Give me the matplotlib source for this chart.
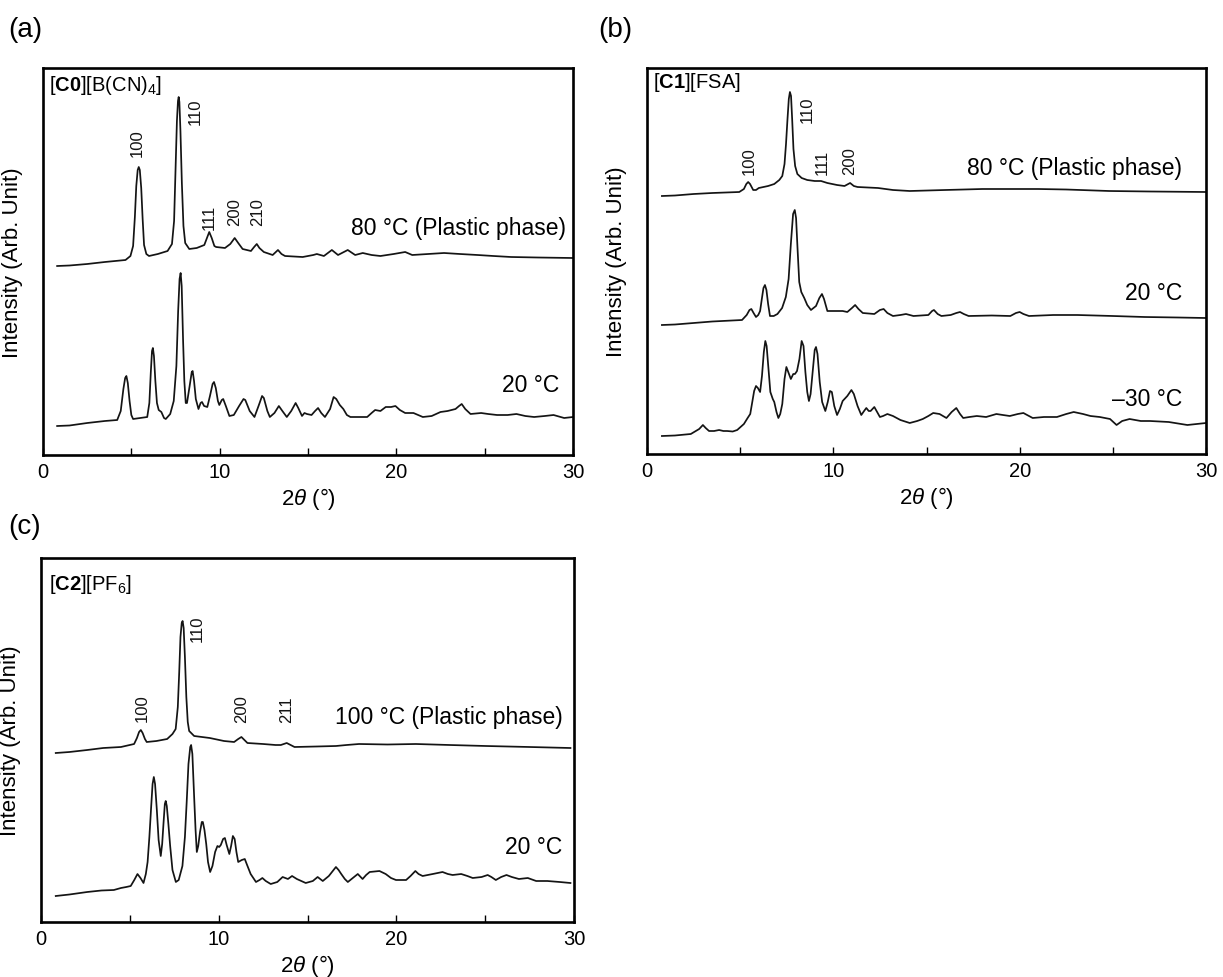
import numpy as np
import matplotlib
matplotlib.use("Agg")
import matplotlib.pyplot as plt
from matplotlib.ticker import FixedLocator

plt.rcParams['font.family'] = ['Liberation Sans', 'DejaVu Sans']
plt.rcParams['mathtext.fontset'] = 'custom'
plt.rcParams['mathtext.rm'] = 'Liberation Sans'
plt.rcParams['mathtext.it'] = 'Liberation Sans:italic'
plt.rcParams['mathtext.bf'] = 'Liberation Sans:bold'

# ---------------- data: (2theta in degrees, intensity in arbitrary units) ----------------
# Panel (a) [C0][B(CN)4]
a80 = [(0.8, 185), (1.5, 185.5), (2.5, 187), (3.5, 189), (4.67, 191), (4.95, 195), (5.1, 205), (5.2, 234),
       (5.28, 265), (5.36, 281), (5.42, 284), (5.48, 281), (5.56, 263), (5.64, 232), (5.72, 206), (5.85, 197),
       (6.0, 195), (6.5, 197), (7.05, 200), (7.3, 207), (7.42, 230), (7.5, 280), (7.58, 330), (7.64, 350),
       (7.68, 354), (7.72, 349), (7.78, 320), (7.86, 268), (7.95, 225), (8.05, 208), (8.28, 202), (8.7, 203),
       (9.13, 206), (9.28, 213), (9.41, 219), (9.55, 213), (9.7, 205), (9.8, 204), (10.3, 203), (10.6, 207),
       (10.85, 213), (11.05, 208), (11.3, 202), (11.77, 200), (11.95, 204), (12.1, 207), (12.25, 203),
       (12.5, 199), (13.0, 196), (13.3, 201), (13.5, 197), (13.7, 195), (14.7, 194), (15.3, 196), (15.5, 197),
       (15.9, 195), (16.35, 201), (16.7, 196), (17.25, 201), (17.67, 196), (18.1, 198), (18.6, 196),
       (19.1, 195), (19.85, 197), (20.5, 199), (20.9, 196), (21.8, 197), (22.7, 198), (23.6, 197), (24.6, 196),
       (25.5, 195), (26.5, 194), (28.0, 193.5), (30.0, 193)]
a20 = [(0.8, 25), (1.5, 25.5), (2.5, 28), (3.5, 30), (4.2, 31), (4.4, 40), (4.55, 62), (4.65, 73), (4.72, 75),
       (4.8, 68), (4.9, 50), (5.0, 36), (5.1, 32), (5.9, 34), (6.02, 48), (6.1, 78), (6.17, 100), (6.22, 103),
       (6.28, 95), (6.36, 70), (6.45, 48), (6.55, 41), (6.7, 39), (6.85, 33), (6.95, 32), (7.2, 37), (7.4, 50),
       (7.55, 85), (7.65, 140), (7.73, 172), (7.79, 178), (7.85, 165), (7.93, 110), (8.0, 70), (8.08, 48),
       (8.15, 48), (8.3, 65), (8.42, 79), (8.47, 80), (8.55, 70), (8.65, 52), (8.8, 42), (8.92, 48), (9.0, 49),
       (9.12, 45), (9.3, 44), (9.45, 55), (9.6, 67), (9.68, 69), (9.78, 63), (9.9, 50), (9.98, 46), (10.12, 51),
       (10.2, 52), (10.35, 45), (10.55, 35), (10.8, 36), (11.1, 45), (11.35, 52), (11.45, 51), (11.7, 40),
       (11.97, 34), (12.2, 45), (12.4, 55), (12.5, 53), (12.7, 40), (12.84, 34), (13.1, 38), (13.35, 45),
       (13.55, 40), (13.8, 34), (14.05, 40), (14.3, 48), (14.45, 43), (14.66, 35), (14.8, 38), (14.94, 37),
       (15.2, 36), (15.4, 40), (15.57, 43), (15.75, 38), (15.96, 34), (16.25, 42), (16.45, 54), (16.6, 52),
       (16.8, 46), (17.0, 42), (17.2, 36), (17.4, 34), (18.0, 34), (18.35, 34), (18.6, 38), (18.8, 41),
       (19.1, 40), (19.4, 44), (19.7, 44), (19.95, 45), (20.2, 41), (20.5, 38), (20.97, 38), (21.5, 34),
       (22.0, 35), (22.5, 39), (22.9, 40), (23.35, 42), (23.55, 45), (23.7, 47), (23.9, 42), (24.2, 37),
       (24.8, 38), (25.2, 37), (25.7, 36), (26.3, 36), (26.8, 37), (27.3, 35), (27.8, 34), (28.4, 35),
       (28.9, 36), (29.5, 33), (30.0, 34)]

# Panel (b) [C1][FSA]
b80 = [(0.8, 258), (1.5, 258.5), (2.5, 260), (3.5, 261), (4.95, 262), (5.2, 265), (5.33, 270), (5.43, 272),
       (5.53, 270), (5.7, 264), (5.85, 264), (6.0, 266), (6.5, 268), (6.83, 270), (7.1, 274), (7.26, 278),
       (7.38, 290), (7.46, 310), (7.54, 335), (7.61, 355), (7.67, 362), (7.73, 358), (7.79, 335), (7.86, 305),
       (7.95, 288), (8.07, 280), (8.3, 276), (8.6, 274), (9.0, 273), (9.34, 273), (9.68, 271), (10.2, 269),
       (10.6, 268), (10.9, 271), (11.1, 268), (11.3, 267), (12.4, 266), (13.2, 264), (14.1, 263), (16.0, 264),
       (18.0, 265), (19.5, 265), (21.0, 265), (22.5, 264.5), (24.8, 263), (27.0, 262.5), (30.0, 262)]
b20 = [(0.8, 129), (1.5, 129.5), (2.5, 131), (3.5, 132.5), (5.1, 134), (5.35, 139), (5.5, 144), (5.6, 145),
       (5.72, 141), (5.85, 137), (5.97, 139), (6.07, 143), (6.17, 156), (6.25, 166), (6.33, 169), (6.41, 164),
       (6.5, 150), (6.6, 138), (6.8, 138), (7.0, 140), (7.25, 146), (7.45, 157), (7.6, 175), (7.72, 210),
       (7.84, 240), (7.93, 244), (8.0, 236), (8.08, 205), (8.17, 172), (8.28, 162), (8.44, 156), (8.6, 149),
       (8.8, 144), (9.07, 148), (9.25, 156), (9.39, 160), (9.5, 155), (9.68, 143), (10.1, 143), (10.5, 143),
       (10.75, 142), (11.0, 146), (11.17, 149), (11.35, 145), (11.58, 141), (12.2, 140), (12.5, 144),
       (12.7, 145), (12.9, 141), (13.2, 138), (13.6, 139), (13.9, 140), (14.3, 138), (15.1, 139), (15.3, 143),
       (15.4, 144), (15.6, 140), (15.8, 138), (16.3, 139), (16.6, 141), (16.8, 142), (17.0, 140), (17.26, 138),
       (18.5, 138.5), (19.5, 138), (19.8, 141), (20.0, 142), (20.2, 140), (20.5, 138), (21.8, 139), (23.1, 139),
       (25.0, 138), (26.7, 137), (28.5, 136.5), (30.0, 136)]
bm30 = [(0.8, 18), (1.5, 18.5), (2.35, 20), (2.8, 25), (3.0, 29), (3.15, 26), (3.33, 23), (3.6, 23), (3.87, 24),
        (4.1, 23), (4.3, 23), (4.6, 22.5), (4.84, 24), (5.2, 30), (5.4, 36), (5.54, 40), (5.65, 52), (5.75, 63),
        (5.85, 68), (5.95, 66), (6.07, 62), (6.17, 78), (6.27, 102), (6.35, 113), (6.42, 108), (6.52, 85),
        (6.62, 62), (6.75, 55), (6.83, 52), (6.95, 42), (7.05, 36), (7.15, 40), (7.26, 50), (7.38, 75),
        (7.48, 87), (7.58, 82), (7.72, 75), (7.85, 80), (7.94, 80), (8.05, 83), (8.18, 95), (8.3, 113),
        (8.4, 108), (8.5, 82), (8.6, 62), (8.69, 53), (8.78, 60), (8.88, 80), (9.0, 104), (9.07, 107),
        (9.15, 100), (9.27, 72), (9.4, 52), (9.57, 43), (9.7, 52), (9.82, 63), (9.92, 62), (10.05, 48),
        (10.2, 39), (10.35, 45), (10.5, 53), (10.75, 58), (10.97, 64), (11.1, 60), (11.3, 48), (11.5, 39),
        (11.65, 43), (11.77, 46), (11.9, 43), (12.0, 43), (12.2, 47), (12.35, 42), (12.5, 37), (12.67, 38),
        (12.9, 40), (13.2, 38), (13.6, 34), (14.1, 31), (14.5, 33), (14.8, 35), (15.1, 38), (15.36, 41),
        (15.7, 40), (16.07, 36), (16.35, 42), (16.6, 46), (16.8, 40), (16.97, 36), (17.3, 37), (17.7, 38),
        (18.2, 37), (18.75, 40), (19.1, 39), (19.47, 38), (19.9, 40), (20.2, 41), (20.7, 36), (21.3, 37),
        (22.0, 37), (22.5, 40), (22.9, 42), (23.4, 40), (23.8, 38), (24.3, 37), (24.85, 35), (25.2, 29),
        (25.5, 33), (25.9, 35), (26.5, 33), (27.0, 33), (28.0, 32), (29.0, 29), (29.5, 30), (30.0, 31)]

# Panel (c) [C2][PF6]
c100 = [(0.83, 169), (1.6, 170), (2.6, 172), (3.5, 174), (4.5, 175), (5.24, 178), (5.4, 184), (5.52, 190),
        (5.62, 192), (5.72, 189), (5.85, 183), (5.95, 180), (6.5, 181), (7.1, 183), (7.4, 188), (7.58, 193),
        (7.7, 215), (7.78, 250), (7.85, 285), (7.92, 299), (7.97, 301), (8.03, 294), (8.1, 265), (8.18, 225),
        (8.26, 200), (8.34, 191), (8.62, 186), (9.5, 184), (10.3, 181), (10.87, 180), (11.1, 183), (11.28, 185),
        (11.45, 182), (11.62, 179), (12.5, 178), (13.2, 177), (13.5, 177), (13.83, 179), (14.05, 177),
        (14.27, 175), (15.5, 175.5), (16.6, 176), (17.2, 177), (17.9, 178), (19.5, 177.5), (21.1, 178),
        (23.0, 177), (25.05, 176), (27.5, 175), (29.8, 174)]
c20 = [(0.83, 26), (1.6, 27.5), (2.6, 30), (3.4, 31.5), (4.1, 32), (4.5, 34), (4.8, 35), (5.05, 36), (5.25, 42),
       (5.43, 48), (5.6, 44), (5.77, 39), (5.9, 48), (6.0, 60), (6.1, 85), (6.2, 115), (6.28, 138), (6.35, 145),
       (6.42, 138), (6.52, 112), (6.62, 82), (6.74, 66), (6.82, 78), (6.9, 100), (6.97, 118), (7.02, 121),
       (7.08, 116), (7.17, 98), (7.27, 76), (7.4, 52), (7.59, 40), (7.75, 42), (7.96, 56), (8.1, 85), (8.2, 120),
       (8.3, 158), (8.4, 175), (8.45, 177), (8.52, 168), (8.62, 125), (8.7, 92), (8.77, 70), (8.85, 76),
       (8.95, 90), (9.05, 100), (9.11, 100), (9.2, 92), (9.3, 78), (9.4, 60), (9.52, 50), (9.65, 56), (9.8, 70),
       (9.93, 76), (10.03, 75), (10.12, 77), (10.25, 83), (10.35, 84), (10.45, 77), (10.6, 68), (10.7, 76),
       (10.8, 86), (10.9, 83), (11.0, 70), (11.1, 60), (11.3, 62), (11.47, 63), (11.6, 57), (11.8, 48),
       (12.1, 40), (12.3, 42), (12.46, 44), (12.65, 41), (12.93, 38), (13.3, 40), (13.6, 45), (13.75, 44),
       (13.9, 43), (14.13, 46), (14.4, 43), (14.9, 39), (15.3, 41), (15.57, 45), (15.86, 41), (16.2, 46),
       (16.6, 55), (16.75, 52), (16.9, 48), (17.1, 43), (17.27, 40), (17.55, 44), (17.83, 48), (18.1, 43),
       (18.3, 47), (18.5, 50), (19.05, 51), (19.4, 48), (19.7, 44), (19.98, 42), (20.55, 42), (20.8, 46),
       (21.07, 51), (21.25, 48), (21.48, 46), (22.05, 48), (22.6, 50), (22.9, 48), (23.17, 47), (23.65, 48),
       (24.0, 46), (24.3, 44), (24.8, 45), (25.14, 47), (25.35, 45), (25.6, 42), (25.9, 45), (26.2, 47),
       (26.5, 45), (26.9, 43), (27.4, 44), (27.87, 41), (28.5, 41), (29.2, 40), (29.8, 39)]

# hkl labels: (text, 2theta, intensity of label bottom)
a_hkl = [("100", 5.35, 295), ("110", 8.6, 327), ("111", 9.4, 222), ("200", 10.85, 226), ("210", 12.15, 226)]
b_hkl = [("100", 5.48, 280), ("110", 8.6, 332), ("111", 9.4, 280), ("200", 10.86, 280)]
c_hkl = [("100", 5.7, 201), ("110", 8.8, 281), ("200", 11.3, 200), ("211", 13.8, 200)]

# ---------------- figure ----------------
W, H = 1223, 978
fig = plt.figure(figsize=(W / 100, H / 100), dpi=100)


def add_ax(l, t, r, b):
    return fig.add_axes([l / W, 1 - b / H, (r - l) / W, (b - t) / H])


LC = '#141414'
TXT = 16.5
LAB = 14.5


def curve(ax, pts):
    x, y = zip(*pts)
    ax.plot(x, y, color=LC, lw=1.25, solid_joinstyle='round')


def style(ax, ylim, width_px):
    ax.set_xlim(0, 30)
    ax.set_ylim(*ylim)
    ax.xaxis.set_major_locator(FixedLocator([0, 10, 20, 30]))
    ax.xaxis.set_minor_locator(FixedLocator([5, 15, 25]))
    ax.tick_params(axis='x', which='both', direction='in', length=5, width=1.0,
                   labelsize=14.5, pad=5, top=False)
    ax.set_yticks([])
    for s in ax.spines.values():
        s.set_linewidth(1.9)
        s.set_color('black')
    ax.set_xlabel(r'2$\theta$ (°)', fontsize=16, labelpad=3)
    ax.set_ylabel('Intensity (Arb. Unit)', fontsize=16)
    ax.yaxis.set_label_coords(-20 / width_px, 0.5)


def hkl(ax, items):
    for t, x, y in items:
        ax.text(x, y, t, rotation=90, ha='center', va='bottom', fontsize=12, color=LC)


# (a)
axA = add_ax(43, 69, 573, 456)
curve(axA, a80)
curve(axA, a20)
style(axA, (-4, 383), 530)
hkl(axA, a_hkl)
axA.text(0.35, 366, r'[$\mathbf{C0}$][B(CN)$_4$]', fontsize=LAB, ha='left', va='center')
axA.text(29.6, 223, '80 °C (Plastic phase)', fontsize=TXT, ha='right', va='center')
axA.text(29.2, 66, '20 °C', fontsize=TXT, ha='right', va='center')

# (b)
axB = add_ax(647, 69, 1206, 455)
curve(axB, b80)
curve(axB, b20)
curve(axB, bm30)
style(axB, (0, 386), 559)
hkl(axB, b_hkl)
axB.text(0.3, 373, r'[$\mathbf{C1}$][FSA]', fontsize=LAB, ha='left', va='center')
axB.text(28.7, 286, '80 °C (Plastic phase)', fontsize=TXT, ha='right', va='center')
axB.text(28.7, 161, '20 °C', fontsize=TXT, ha='right', va='center')
axB.text(28.7, 56, '\u201330 °C', fontsize=TXT, ha='right', va='center')

# (c)
axC = add_ax(41, 559, 574, 923)
curve(axC, c100)
curve(axC, c20)
style(axC, (0, 364), 533)
hkl(axC, c_hkl)
axC.text(0.45, 338, r'[$\mathbf{C2}$][PF$_6$]', fontsize=LAB, ha='left', va='center')
axC.text(29.35, 205, '100 °C (Plastic phase)', fontsize=TXT, ha='right', va='center')
axC.text(29.35, 75, '20 °C', fontsize=TXT, ha='right', va='center')

# panel letters
fig.text(8 / W, 1 - 30 / H, '(a)', fontsize=20, ha='left', va='center')
fig.text(598 / W, 1 - 30 / H, '(b)', fontsize=20, ha='left', va='center')
fig.text(8 / W, 1 - 527 / H, '(c)', fontsize=20, ha='left', va='center')

fig.savefig('out.png', dpi=100)
